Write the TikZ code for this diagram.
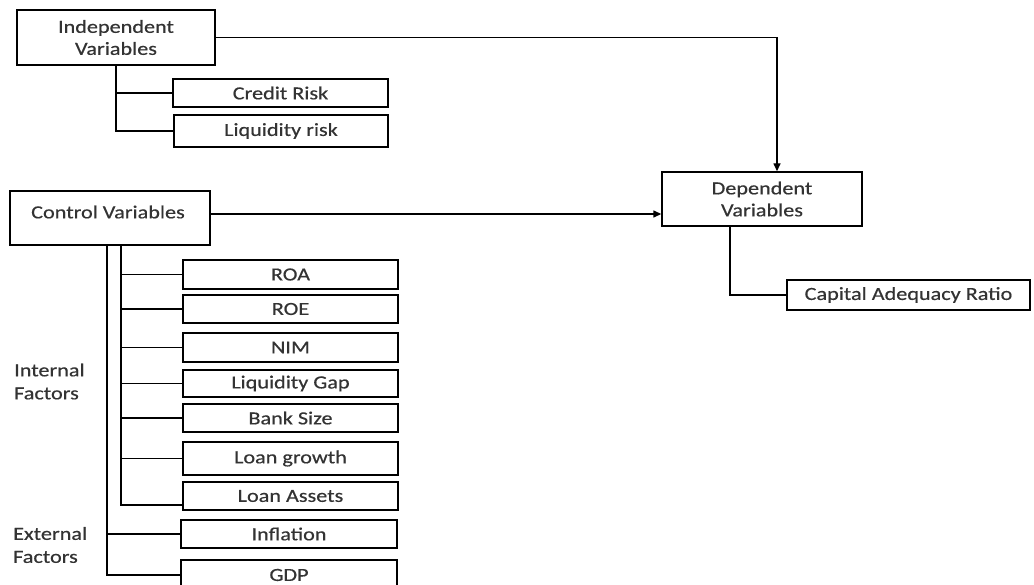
\documentclass[tikz,border=0pt]{standalone}
\usepackage{fontspec}
\setmainfont{Carlito}[FakeStretch=1.2,FakeBold=0.5]
\usetikzlibrary{arrows.meta}
\begin{document}
\begin{tikzpicture}[x=1pt,y=-1pt,
  box/.style={draw, line width=1.4pt, inner sep=0pt, align=center, text=black!80,
    font=\fontsize{18.5}{22}\selectfont},
  lbl/.style={inner sep=0pt, align=left, text=black!80, font=\fontsize{18.5}{23}\selectfont},
  conn/.style={line width=1.4pt},
  arr/.style={conn,-{Triangle[length=8pt,width=7pt]}}]
\useasboundingbox (0,0) rectangle (1034,585);
% top group
\node[box, minimum width=198pt, minimum height=55pt] (iv) at (116,37.5) {Independent\\Variables};
\node[box, minimum width=215pt, minimum height=28pt] (cr) at (280.5,93) {Credit Risk};
\node[box, minimum width=214pt, minimum height=32pt] (lr) at (281,131) {Liquidity risk};
% dependent
\node[box, minimum width=200pt, minimum height=54pt] (dv) at (762,199) {Dependent\\Variables};
\node[box, minimum width=243pt, minimum height=30pt] (cap) at (908.5,295) {Capital Adequacy Ratio};
% control
\node[box, minimum width=200pt, minimum height=54pt] (cv) at (110,218) {};
\node[lbl] (cvt) at (108,212) {Control Variables};
\node[box, minimum width=215pt, minimum height=29pt] (roa) at (290.5,274.5) {ROA};
\node[box, minimum width=215pt, minimum height=28pt] (roe) at (290.5,309) {ROE};
\node[box, minimum width=215pt, minimum height=29pt] (nim) at (290.5,347.5) {NIM};
\node[box, minimum width=215pt, minimum height=27pt] (lg) at (290.5,383.5) {Liquidity Gap};
\node[box, minimum width=215pt, minimum height=28pt] (bs) at (290.5,418) {Bank Size};
\node[box, minimum width=215pt, minimum height=33pt] (lgr) at (290.5,458.5) {Loan growth};
\node[box, minimum width=215pt, minimum height=28pt] (la) at (290.5,496) {Loan Assets};
\node[box, minimum width=216pt, minimum height=28pt] (infl) at (289,534) {Inflation};
\node[box, minimum width=216pt, minimum height=30pt] (gdp) at (289,575) {GDP};
\node[lbl, anchor=west] (intf) at (14,381.5) {Internal\\Factors};
\node[lbl, anchor=west] (extf) at (13,545) {External\\Factors};
% connectors
\draw[conn] (iv.south) |- (cr.west);
\draw[conn] (iv.south) |- (lr.west);
\draw[arr] (iv.east) -| ([xshift=15pt]dv.north);
\coordinate (cvout) at ([yshift=4pt]cv.east);
\draw[arr] (cvout) -- (cvout -| dv.west);
\draw[conn] ([xshift=-32pt]dv.south) |- (cap.west);
\coordinate (cin) at ([xshift=11pt]cv.south);
\coordinate (cout) at ([xshift=-3pt]cv.south);
\draw[conn] (cin) |- ([yshift=-9pt]la.west);
\foreach \n in {roa,roe,nim,lg,bs,lgr} \draw[conn] (\n.west) -- (\n.west -| cin);
\draw[conn] (cout) |- (gdp.west);
\draw[conn] (infl.west) -- (infl.west -| cout);
\end{tikzpicture}
\end{document}
